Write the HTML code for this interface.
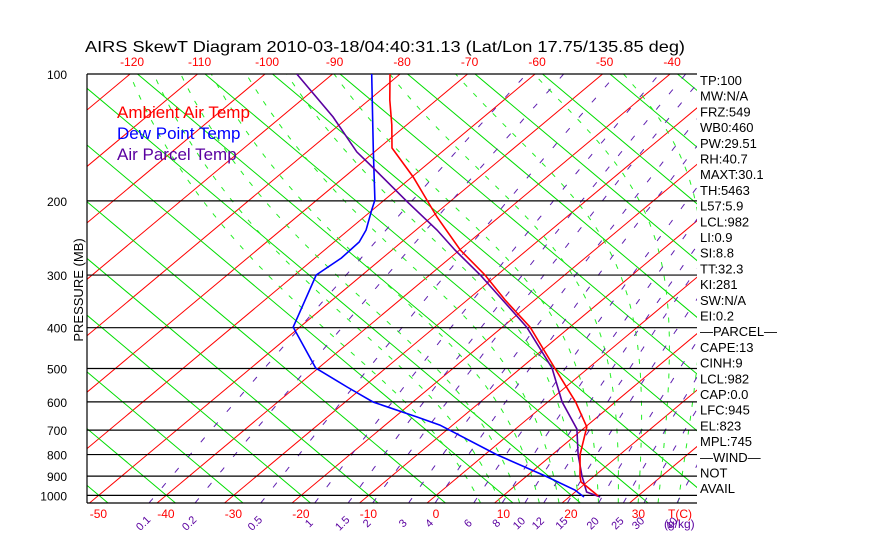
<!DOCTYPE html>
<html><head><meta charset="utf-8"><style>
html,body{margin:0;padding:0;background:#fff;}
svg{display:block;font-family:"Liberation Sans",sans-serif;}
</style></head><body>
<svg id="chart" width="870" height="560" viewBox="0 0 870 560" xmlns="http://www.w3.org/2000/svg">
<rect width="870" height="560" fill="#fff"/>
<defs><clipPath id="plotclip"><rect x="87" y="74" width="610" height="429"/></clipPath></defs>
<text x="85" y="52" font-size="16" textLength="600" lengthAdjust="spacingAndGlyphs">AIRS SkewT Diagram 2010-03-18/04:40:31.13 (Lat/Lon 17.75/135.85 deg)</text>
<g id="bg" clip-path="url(#plotclip)"></g>
<g id="grid"></g>
<g id="profiles" clip-path="url(#plotclip)"></g>
<g id="labels"></g>
<text transform="translate(83,290) rotate(-90)" text-anchor="middle" font-size="13">PRESSURE (MB)</text>
<text x="117" y="118" font-size="17" fill="#ff0000">Ambient Air Temp</text>
<text x="117" y="139" font-size="17" fill="#0000ff">Dew Point Temp</text>
<text x="117" y="160" font-size="17" fill="#5a00a0">Air Parcel Temp</text>
</svg>
<script>
const pressureTicks=[100,200,300,400,500,600,700,800,900,1000];
const isoTopLabels=[-120,-110,-100,-90,-80,-70,-60,-50,-40];
const isoBottomLabels=[-50,-40,-30,-20,-10,0,10,20,30];
const dryAdiabatBaseT=[-100,-90,-80,-70,-60,-50,-40,-30,-20,-10,0,10,20,30,40,50,60,70,80,90,100,110,120,130,140,150,160,170,180,190,200];
const moistBaseT=[6,9,12,15,18,21,24,27,30,33,36,39,42,45];
const mixRatios=[0.1,0.2,0.5,1,1.5,2,3,4,6,8,10,12,15,20,25,30,40];
const mixLabels=["0.1","0.2","0.5","1","1.5","2","3","4","6","8","10","12","15","20","25","30","40"];
const tempP=[100,115.3,132.1,149.8,175.6,199.1,218.4,261.6,300,343.8,398.6,498.6,600,688,800,900,929.6,945,1003];
const tempT=[-81.5,-76.9,-72.2,-68.1,-59.8,-53.7,-49.2,-39.9,-31.8,-24.4,-15.9,-5.0,4.1,10.2,14.1,17.9,19.1,20.2,24.1];
const dewP=[100,151.5,199.1,210.3,234.5,250.4,273.3,300,398.6,498.6,553,600.4,651.6,681,800,900,971,1009];
const dewT=[-84.2,-70.5,-61.4,-60.1,-57.4,-56.3,-56.1,-56.8,-51.0,-40.4,-32.4,-25.9,-16.7,-11.9,1.7,12.8,19.6,22.2];
const parP=[100,126.5,153.1,167.1,201,234.5,261.6,300,398.6,498.6,600,695.8,800,900,981.8,1009];
const parT=[-95.3,-82.3,-72.6,-67.3,-56.3,-46.9,-40.7,-32.5,-16.4,-5.4,2.1,9.1,13.8,18.2,21.7,24.6];
const rightLabels=["TP:100","MW:N/A","FRZ:549","WB0:460","PW:29.51","RH:40.7","MAXT:30.1","TH:5463","L57:5.9","LCL:982","LI:0.9","SI:8.8","TT:32.3","KI:281","SW:N/A","EI:0.2","\u2014PARCEL\u2014","CAPE:13","CINH:9","LCL:982","CAP:0.0","LFC:945","EL:823","MPL:745","\u2014WIND\u2014","NOT","AVAIL"];

const NS="http://www.w3.org/2000/svg";
const PBOT=1043;
function toY(p){return 74+183*Math.log(p/100);}
function toX(T,p){return 427+6.75*T+1.196*(503-toY(p));}
function mk(tag,attrs,parent){const e=document.createElementNS(NS,tag);for(const k in attrs)e.setAttribute(k,attrs[k]);parent.appendChild(e);return e;}
const bg=document.getElementById('bg'),grid=document.getElementById('grid'),prof=document.getElementById('profiles'),lab=document.getElementById('labels');
function pts(arrP,fn){return arrP.map(p=>toX(fn(p),p).toFixed(1)+','+toY(p).toFixed(1)).join(' ');}

// isotherms
for(let T=-170;T<=50;T+=10){
  const l=mk('line',{x1:toX(T,PBOT),y1:toY(PBOT),x2:toX(T,95),y2:toY(95),stroke:'#ff0000','stroke-width':1},bg);
  
  
}
// dry adiabats
dryAdiabatBaseT.forEach(T=>{
  const x0=108+6.75*(T+50);
  const pl=mk('line',{x1:x0,y1:503,x2:x0-1.19*440,y2:63,stroke:'#00dd00','stroke-width':1},bg);
  
  
});
// moist adiabats
function es(T){return 6.112*Math.exp(17.67*T/(T+243.5));}
function slope(T,p){const e=es(T-273.15);const rs=0.622*e/(p-e);const Rd=287,cp=1005,Lv=2.5e6;
  return (Rd*T+Lv*rs)/(p*(cp+Lv*Lv*rs*0.622/(Rd*T*T)));}
moistBaseT.forEach(T0=>{
  const up=[],dn=[];
  let t=T0+273.15,pp=1000;
  while(pp<PBOT){dn.push([pp,t]);t+=slope(t,pp)*2;pp+=2;}
  dn.push([pp,t]);
  t=T0+273.15;pp=1000;
  while(pp>95){up.push([pp,t]);t+=slope(t,pp)*(-2);pp-=2;}
  const all=dn.reverse().concat(up);
  const s=all.map(a=>toX(a[1]-273.15,a[0]).toFixed(1)+','+toY(a[0]).toFixed(1)).join(' ');
  const pl=mk('polyline',{points:s,fill:'none',stroke:'#22ee22','stroke-width':1,'stroke-dasharray':'5,9'},bg);
  
  
});
// mixing ratio lines
function wT(w,p){const e=w*p/(622+w);const L=Math.log(e/6.112);return 243.5*L/(17.67-L);}
const mixP=[];for(let p=PBOT;p>=95;p*=0.99)mixP.push(p);
mixRatios.forEach((w,i)=>{
  const pl=mk('polyline',{points:pts(mixP,p=>wT(w,p)),fill:'none',stroke:'#6020b0','stroke-width':1,'stroke-dasharray':'6,14'},bg);
  
  
  const x=toX(wT(w,PBOT),PBOT)-6;
  const t=mk('text',{x:x,y:527,'font-size':11,fill:'#5a00a0','text-anchor':'middle',transform:'rotate(-45 '+x+' 523)'},lab);
  t.textContent=mixLabels[i];
  
  
});
{const t=mk('text',{x:664,y:528,'font-size':12,fill:'#5a00a0'},lab);t.textContent='(g/kg)';

}

// pressure grid
pressureTicks.forEach(p=>{
  const y=toY(p);
  const l=mk('line',{x1:87,y1:y,x2:697,y2:y,stroke:'#000','stroke-width':1.2},grid);
  
  
  const t=mk('text',{x:67,y:y+5,'font-size':12,'text-anchor':'end'},lab);
  t.textContent=p;
  
  
});
{const l=mk('line',{x1:87,y1:503,x2:697,y2:503,stroke:'#000','stroke-width':1.2},grid);

const l2=mk('line',{x1:87,y1:74,x2:87,y2:503,stroke:'#000','stroke-width':1.2},grid);
}

isoTopLabels.forEach(T=>{
  const t=mk('text',{x:toX(T,100)+2,y:66,'font-size':12,fill:'#ff0000','text-anchor':'middle'},lab);
  t.textContent=T;
  
  
});
isoBottomLabels.forEach(T=>{
  const t=mk('text',{x:toX(T,PBOT)+9,y:518,'font-size':12,fill:'#ff0000','text-anchor':'middle'},lab);
  t.textContent=T;
  
  
});
{const t=mk('text',{x:680,y:518,'font-size':12,fill:'#ff0000','text-anchor':'middle'},lab);t.textContent='T(C)';
}

rightLabels.forEach((s,i)=>{
  const t=mk('text',{x:700,y:85+i*15.7,'font-size':13},lab);
  t.textContent=s;
  
  
});

function profile(P,T,color,name,w){
  const s=P.map((p,i)=>toX(T[i],p).toFixed(1)+','+toY(p).toFixed(1)).join(' ');
  const pl=mk('polyline',{points:s,fill:'none',stroke:color,'stroke-width':w},prof);
  
  
}
profile(dewP,dewT,'#0000ff','dewpoint-line',1.6);
profile(parP,parT,'#5a00a0','parcel-line',1.6);
profile(tempP,tempT,'#ff0000','temperature-line',1.6);
</script>
</body></html>
